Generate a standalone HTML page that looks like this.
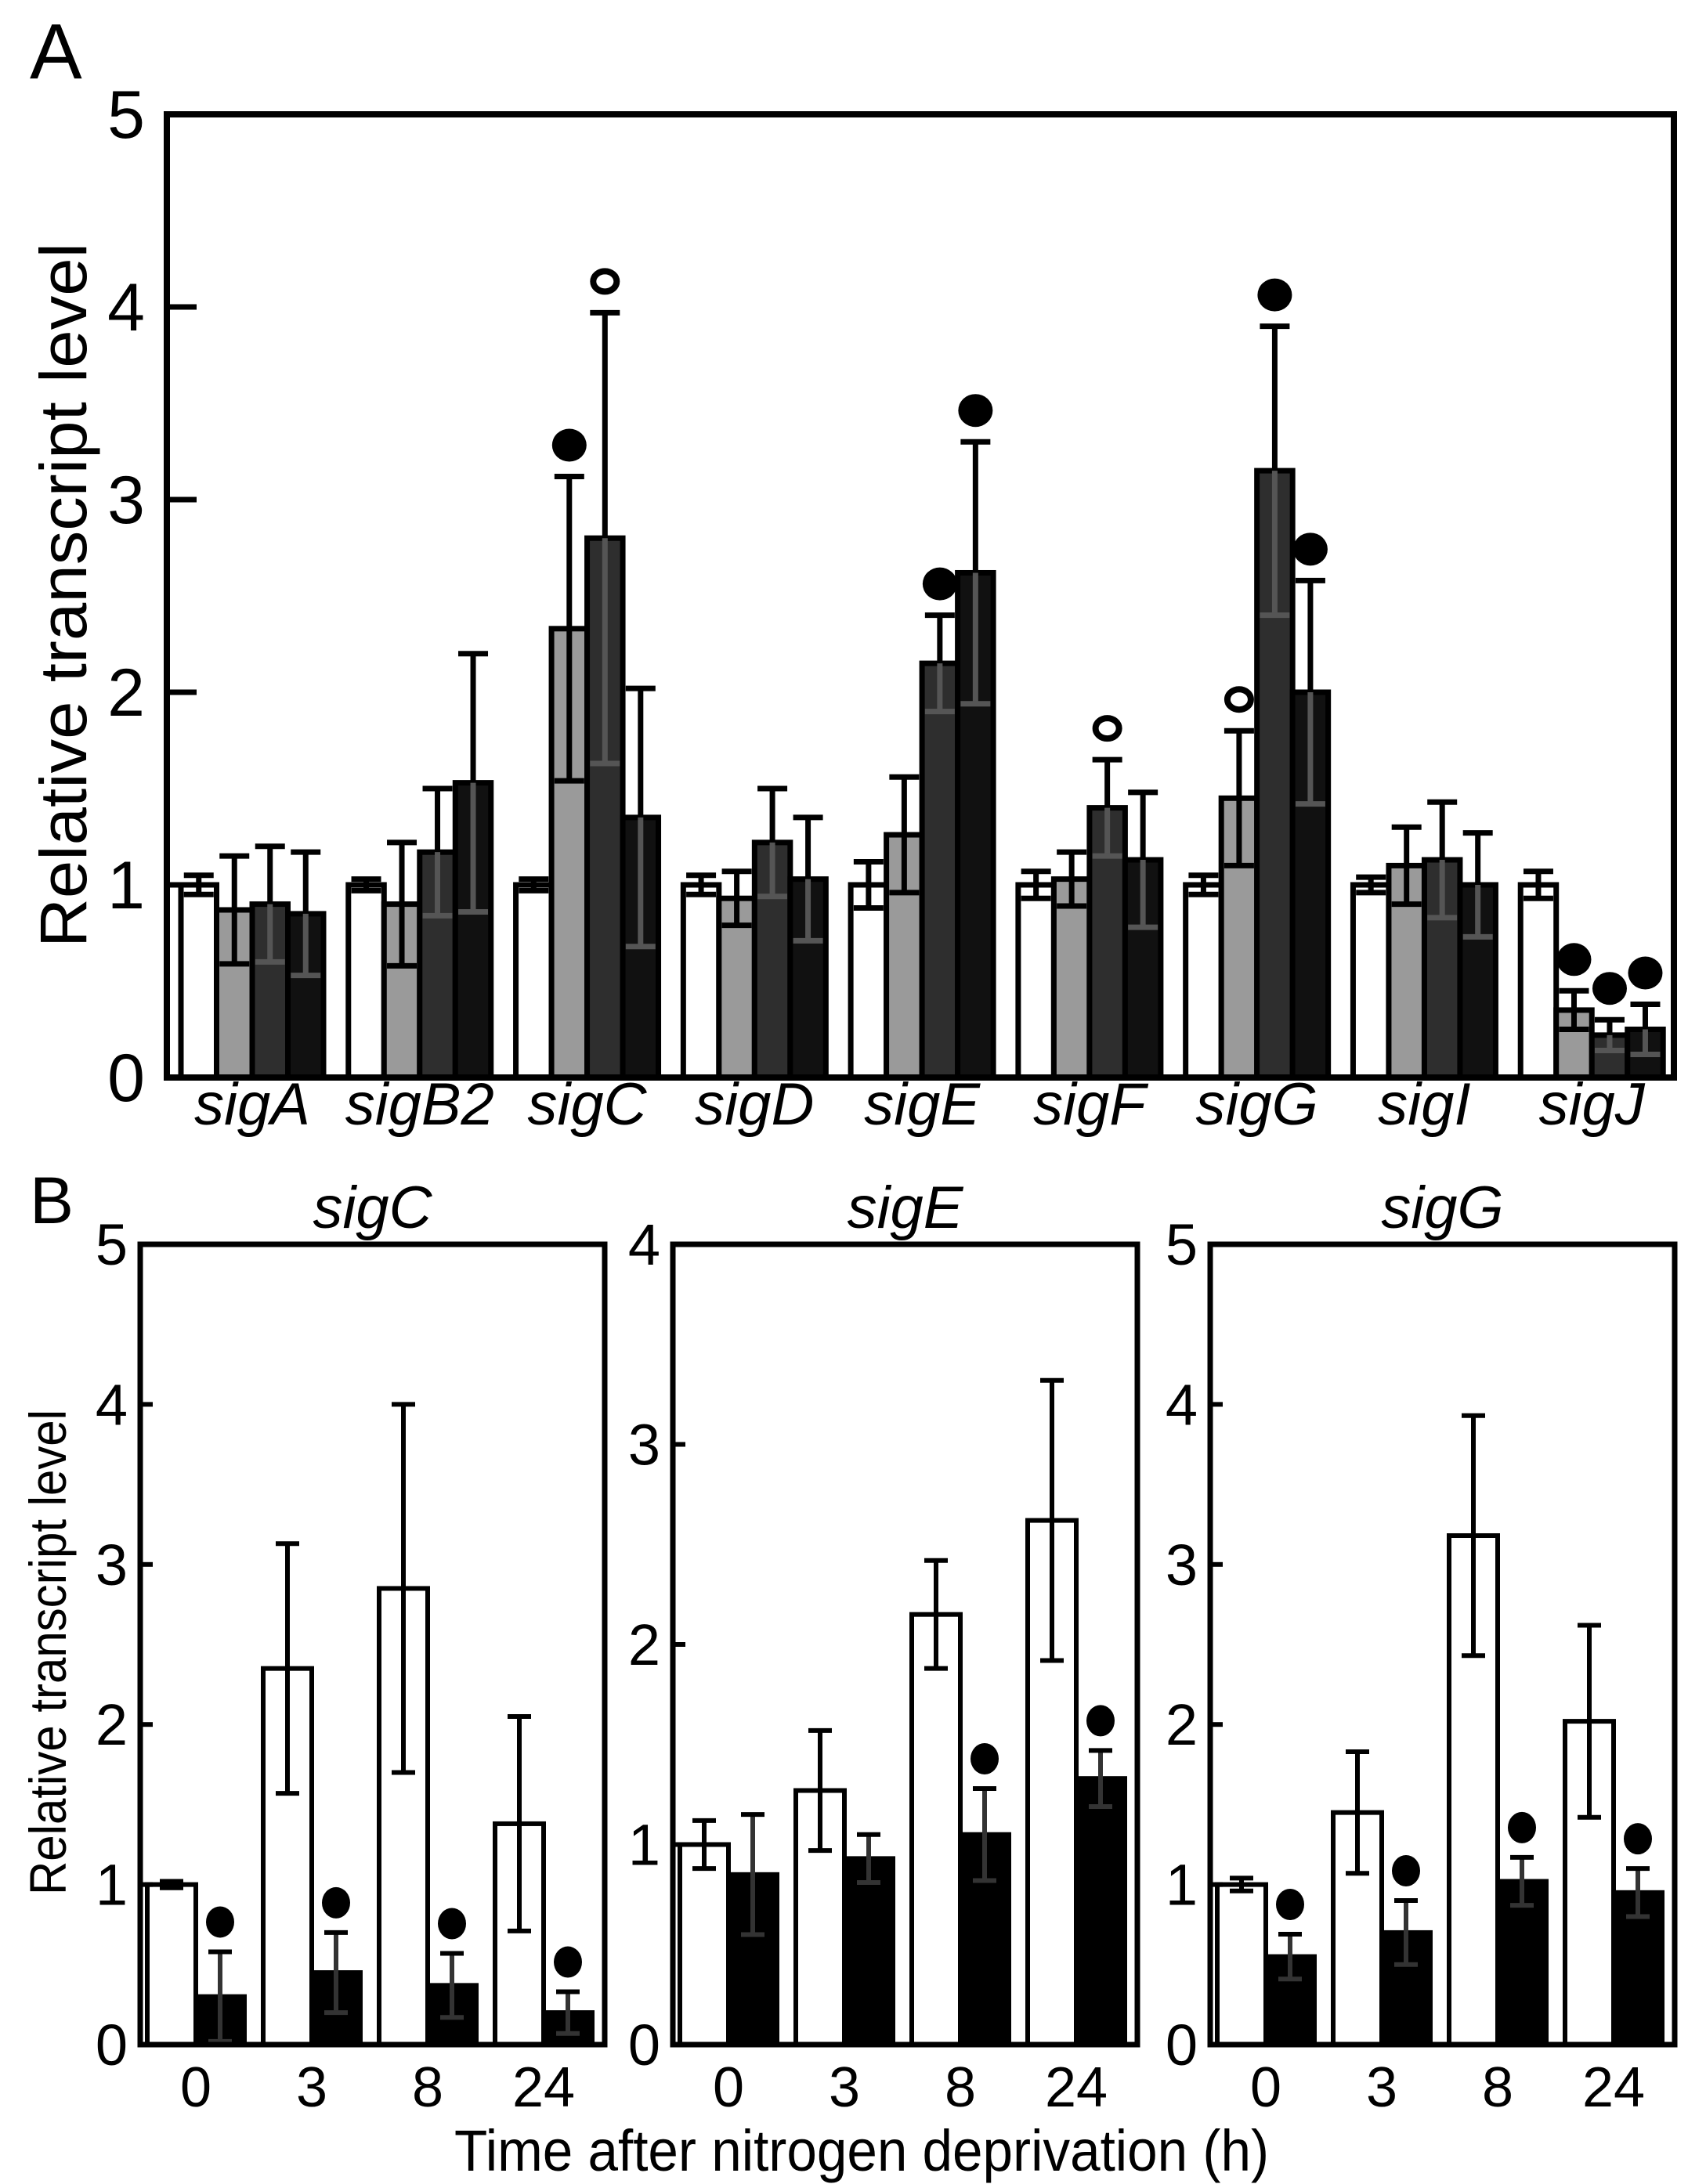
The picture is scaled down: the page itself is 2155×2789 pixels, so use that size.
<!DOCTYPE html>
<html><head><meta charset="utf-8"><style>
html,body{margin:0;padding:0;background:#fff}
svg{display:block}
text{font-family:"Liberation Sans",sans-serif;fill:#000}
</style></head><body>
<svg id="fig" width="2155" height="2789" viewBox="0 0 2155 2789" xmlns="http://www.w3.org/2000/svg">
<text x="38" y="100" font-size="100">A</text>
<text x="38" y="1562" font-size="84">B</text>
<text transform="translate(110,760) rotate(-90)" text-anchor="middle" font-size="84" textLength="900" lengthAdjust="spacingAndGlyphs">Relative transcript level</text>
<text transform="translate(84,2110) rotate(-90)" text-anchor="middle" font-size="66" textLength="620" lengthAdjust="spacingAndGlyphs">Relative transcript level</text>
<text x="1100" y="2772" text-anchor="middle" font-size="74" textLength="1040" lengthAdjust="spacingAndGlyphs">Time after nitrogen deprivation (h)</text>
<g id="gA"></g>
<g id="gB"></g>
</svg>
<script>
const genes = ["sigA","sigB2","sigC","sigD","sigE","sigF","sigG","sigI","sigJ"];
const valH0 = [1.0,1.0,1.0,1.0,1.0,1.0,1.0,1.0,1.0];
const valH3 = [0.87,0.9,2.33,0.93,1.26,1.03,1.45,1.1,0.35];
const valH8 = [0.9,1.17,2.8,1.22,2.15,1.4,3.15,1.13,0.22];
const valH24 = [0.85,1.53,1.35,1.03,2.62,1.13,2.0,1.0,0.25];
const errH0 = [0.05,0.03,0.03,0.05,0.12,0.07,0.05,0.04,0.07];
const errH3 = [0.28,0.32,0.79,0.14,0.3,0.14,0.35,0.2,0.1];
const errH8 = [0.3,0.33,1.17,0.28,0.25,0.25,0.75,0.3,0.08];
const errH24 = [0.32,0.67,0.67,0.32,0.68,0.35,0.58,0.27,0.13];
// marker: 0 none, 1 filled, 2 open
const mkH3 = [0,0,1,0,0,0,2,0,1];
const mkH8 = [0,0,2,0,1,2,1,0,1];
const mkH24 = [0,0,0,0,1,0,1,0,1];
const ticksA = [0,1,2,3,4,5];

const bTitles = ["sigC","sigE","sigG"];
const times = ["0","3","8","24"];
const bMax = [5,4,5];
const bCtrlVal = [[1.0,2.35,2.85,1.38],[1.0,1.27,2.15,2.62],[1.0,1.45,3.18,2.02]];
const bCtrlErr = [[0.02,0.78,1.15,0.67],[0.12,0.3,0.27,0.7],[0.04,0.38,0.75,0.6]];
const bMutVal = [[0.3,0.45,0.37,0.2],[0.85,0.93,1.05,1.33],[0.55,0.7,1.02,0.95]];
const bMutErr = [[0.28,0.25,0.2,0.13],[0.3,0.12,0.23,0.14],[0.14,0.2,0.15,0.15]];
const bMutMk = [[1,1,1,1],[0,0,1,1],[1,1,1,1]];

const NS="http://www.w3.org/2000/svg";
function mk(tag,attrs,parent){const e=document.createElementNS(NS,tag);for(const k in attrs)e.setAttribute(k,attrs[k]);parent.appendChild(e);return e;}

// Panel A
const gA=document.getElementById('gA');
const AL=213,AR=2137,AT=146,AB=1376,AMAX=5;
const yA=v=>AB-(v/AMAX)*(AB-AT);
const grpW=(AR-AL)/9, barW=45.5;
const series=[[valH0,errH0,null,"#fff"],[valH3,errH3,mkH3,"#9a9a9a"],[valH8,errH8,mkH8,"#2e2e2e"],[valH24,errH24,mkH24,"#111"]];
genes.forEach((g,i)=>{
  const x0=AL+18+i*grpW;
  series.forEach((s,j)=>{
    const v=s[0][i],e=s[1][i];
    const x=x0+j*barW;
    const r=mk('rect',{x:x,y:yA(v),width:barW,height:AB-yA(v),fill:s[3],stroke:"#000","stroke-width":7},gA);
    
    
    const cx=x+barW/2;
    const col=j>=2?"#555":"#000";
    mk('line',{x1:cx,x2:cx,y1:yA(v+e),y2:yA(v),stroke:"#000","stroke-width":7},gA);
    mk('line',{x1:cx,x2:cx,y1:yA(v),y2:yA(Math.max(0,v-e)),stroke:col,"stroke-width":7},gA);
    mk('line',{x1:cx-19,x2:cx+19,y1:yA(v+e),y2:yA(v+e),stroke:"#000","stroke-width":7},gA);
    mk('line',{x1:cx-19,x2:cx+19,y1:yA(Math.max(0,v-e)),y2:yA(Math.max(0,v-e)),stroke:col,"stroke-width":7},gA);
    if(s[2]&&s[2][i]){
      const f=s[2][i]==1;
      const c=mk('ellipse',{cx:cx,cy:yA(v+e)-40,rx:f?22:15,ry:f?21:13,fill:f?"#000":"#fff",stroke:"#000","stroke-width":f?0:8},gA);
      
      
    }
  });
  const t=mk('text',{x:x0+2*barW,y:1436,"text-anchor":"middle","font-size":76,"font-style":"italic"},gA);
  t.textContent=g;
  
  
});
mk('rect',{x:AL,y:AT,width:AR-AL,height:AB-AT,fill:"none",stroke:"#000","stroke-width":8},gA);
ticksA.forEach(t=>{
  mk('line',{x1:AL,x2:AL+38,y1:yA(t),y2:yA(t),stroke:"#000","stroke-width":7},gA);
  const tx=mk('text',{x:AL-52,y:yA(t)+30,"text-anchor":"middle","font-size":86},gA);
  tx.textContent=t;
  
  
});

// Panel B
const gB=document.getElementById('gB');
const BL=[179,859,1545],BW=593,BT=1589,BB=2611;
bTitles.forEach((ttl,p)=>{
  const L=BL[p],R=L+BW,max=bMax[p];
  const y=v=>BB-(v/max)*(BB-BT);
  const g=mk('g',{},gB);
  
  
  times.forEach((tm,i)=>{
    const x0=L+9+i*148;
    [[bCtrlVal,bCtrlErr,"#fff",null],[bMutVal,bMutErr,"#000",bMutMk]].forEach((s,j)=>{
      const v=s[0][p][i],e=s[1][p][i],x=x0+j*62;
      const r=mk('rect',{x:x,y:y(v),width:62,height:BB-y(v),fill:s[2],stroke:"#000","stroke-width":6},g);
      
      
      const cx=x+31,lo=Math.max(0,v-e);
      mk('line',{x1:cx,x2:cx,y1:y(v+e),y2:y(lo),stroke:j?"#333":"#000","stroke-width":6},g);
      mk('line',{x1:cx-15,x2:cx+15,y1:y(v+e),y2:y(v+e),stroke:"#000","stroke-width":6},g);
      mk('line',{x1:cx-15,x2:cx+15,y1:y(lo),y2:y(lo),stroke:j?"#333":"#000","stroke-width":6},g);
      if(s[3]&&s[3][p][i]){
        const c=mk('ellipse',{cx:cx,cy:y(v+e)-38,rx:18,ry:20,fill:"#000"},g);
        
        
      }
    });
    const t=mk('text',{x:x0+62,y:2690,"text-anchor":"middle","font-size":72},g);
    t.textContent=tm;
    
    
  });
  mk('rect',{x:L,y:BT,width:BW,height:BB-BT,fill:"none",stroke:"#000","stroke-width":7},g);
  for(let t=0;t<=max;t++){
    mk('line',{x1:L,x2:L+16,y1:y(t),y2:y(t),stroke:"#000","stroke-width":6},g);
    const tx=mk('text',{x:L-16,y:y(t)+26,"text-anchor":"end","font-size":74},g);
    tx.textContent=t;
    
    
  }
  const ti=mk('text',{x:L+BW/2,y:1568,"text-anchor":"middle","font-size":76,"font-style":"italic"},g);
  ti.textContent=ttl;
  
  
});
</script>
</body></html>
